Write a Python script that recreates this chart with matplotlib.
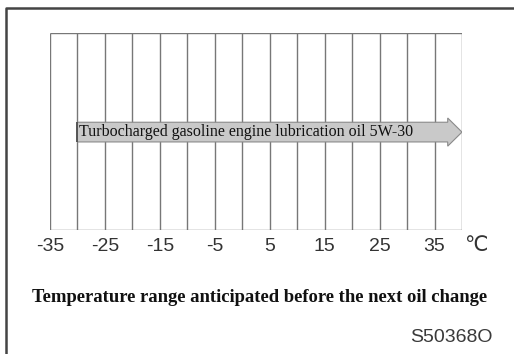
import matplotlib.pyplot as plt
from matplotlib.patches import FancyArrow

# temperature scale (deg C)
grid_temps = list(range(-35, 45, 5))
tick_temps = [-35, -25, -15, -5, 5, 15, 25, 35]
tick_labels = ["-35", "-25", "-15", "-5", "5", "15", "25", "35"]

# recommended oil and its temperature range
oil_name = "Turbocharged gasoline engine lubrication oil 5W-30"
oil_from = -30
oil_to = 40

title = "Temperature range anticipated before the next oil change"
code = "S50368O"

W, H = 514, 354
fig = plt.figure(figsize=(W / 100, H / 100), dpi=100)

# outer frame (only left and top show)
frame = fig.add_axes([0, 0, 1, 1])
frame.set_xlim(0, W)
frame.set_ylim(H, 0)
frame.axis("off")
frame.plot([6, 6, W + 5], [H + 5, 8, 8], color="#444444", lw=1.8)

# chart area
ax = fig.add_axes([50 / W, 1 - 230 / H, 412 / W, 197 / H])
ax.set_xlim(grid_temps[0], grid_temps[-1])
ax.set_ylim(0, 1)
ax.vlines(grid_temps, 0, 1, color="#777777", lw=1.0)
ax.hlines([0, 1], grid_temps[0], grid_temps[-1], color="#777777", lw=1.0)
for s in ax.spines.values():
    s.set_visible(False)
ax.set_yticks([])
ax.set_xticks(tick_temps)
ax.set_xticklabels(tick_labels, fontsize=14, color="#333333",
                   family="Liberation Sans")
ax.tick_params(axis="x", length=0, pad=6)
ax.text(42.5, -0.078, "℃", fontsize=15, color="#333333",
        family=["DejaVu Sans"], ha="center", va="center", clip_on=False)

arr = FancyArrow(oil_from, 0.497, oil_to - oil_from, 0, width=0.1,
                 head_width=0.143, head_length=2.6, length_includes_head=True,
                 facecolor="#c9c9c9", edgecolor="#8a8a8a", lw=0.8, zorder=3)
ax.add_patch(arr)
ax.vlines(oil_from, 0.447, 0.548, color="#555555", lw=1.4, zorder=4)
ax.text(oil_from + 0.3, 0.497, oil_name, fontsize=11.5, family="Liberation Serif",
        color="#111111", ha="left", va="center", zorder=5)

fig.text(259.5 / W, 1 - 297 / H, title, fontsize=13.4, fontweight="bold",
         family="Liberation Serif", color="#111111", ha="center", va="center")
fig.text(493 / W, 1 - 337 / H, code, fontsize=14, family="Liberation Sans",
         color="#3a3a3a", ha="right", va="center")

fig.savefig("out.png", dpi=100)
